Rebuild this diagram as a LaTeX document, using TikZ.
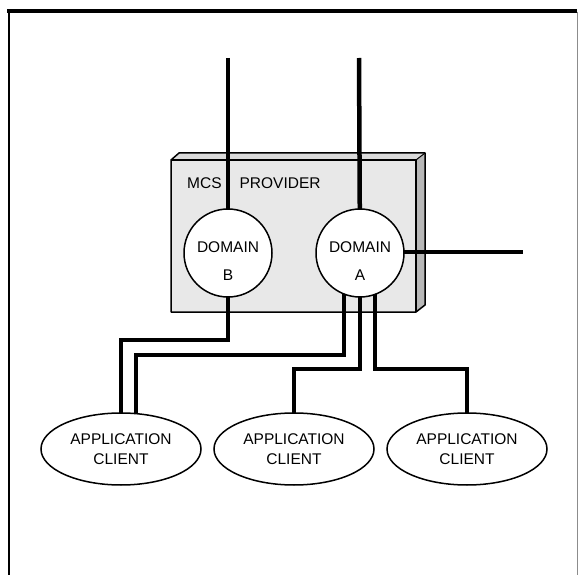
\documentclass[tikz,border=0pt]{standalone}
\usepackage{fontspec}
\setmainfont{Liberation Sans}
\usetikzlibrary{shapes.geometric}
\begin{document}
\begin{tikzpicture}[x=1pt,y=-1pt,
  wire/.style={line width=4.5pt},
  domainnode/.style={circle,draw,line width=1.5pt,fill=white,minimum size=88pt,inner sep=0pt},
  domaintext/.style={align=center,inner sep=0pt,font=\fontsize{15.5}{28}\selectfont},
  clientnode/.style={ellipse,draw,line width=1.5pt,fill=white,minimum width=160pt,minimum height=72pt,inner sep=0pt,align=center,font=\fontsize{15.5}{20}\selectfont},
  lbl/.style={font=\fontsize{15.5}{18}\selectfont,inner sep=0pt}]
\useasboundingbox (0,0) rectangle (579,575);
% frame
\draw[line width=4pt] (7,11) -- (577,11);
\draw[line width=2pt] (9,10) -- (9,575);
\draw[line width=0.8pt,black!45] (577,12) -- (577,575);
% provider box
\fill[black!14] (171,160) -- (179,153) -- (425,153) -- (416,160) -- cycle;
\fill[black!28] (416,160) -- (425,153) -- (425,305) -- (416,312) -- cycle;
\fill[black!9] (171,160) rectangle (416,312);
\draw[line width=1.5pt,line join=round] (171,160) -- (179,153) -- (425,153) -- (425,305) -- (416,312) -- (171,312) -- cycle;
\draw[line width=1.5pt] (171,160) -- (416,160) -- (416,312);
\draw[line width=1pt] (416,160) -- (425,153);
\node[lbl,anchor=west] (mcs) at (187,183) {MCS\hspace{18pt}PROVIDER};
% coordinates
\coordinate (cB) at (228,253);
\coordinate (cA) at (360,253);
\coordinate (tB) at (228,58);
\coordinate (tA) at (359,58);
\coordinate (rA) at (523,252);
\coordinate (k1) at (121,449);
\coordinate (k2) at (294,449);
\coordinate (k3) at (467,449);
% wires
\draw[wire] (tB) -- (cB);
\draw[wire] (tA) -- (cA);
\draw[wire] (cA |- rA) -- (rA);
\draw[wire] (cB) -- ++(0,87) -| (k1);
\draw[wire] ([xshift=-16pt]cA) -- ++(0,102) -| ([xshift=15pt]k1);
\draw[wire] (cA) -- ++(0,116) -| (k2);
\draw[wire] ([xshift=15pt]cA) -- ++(0,116) -| (k3);
% nodes
\node[domainnode] (B) at (cB) {};
\node[domaintext] (Bt) at ([yshift=-8pt]cB) {DOMAIN\\B};
\node[domainnode] (A) at (cA) {};
\node[domaintext] (At) at ([yshift=-8pt]cA) {DOMAIN\\A};
\node[clientnode] (c1) at (k1) {APPLICATION\\CLIENT};
\node[clientnode] (c2) at (k2) {APPLICATION\\CLIENT};
\node[clientnode] (c3) at (k3) {APPLICATION\\CLIENT};
\end{tikzpicture}
\end{document}
